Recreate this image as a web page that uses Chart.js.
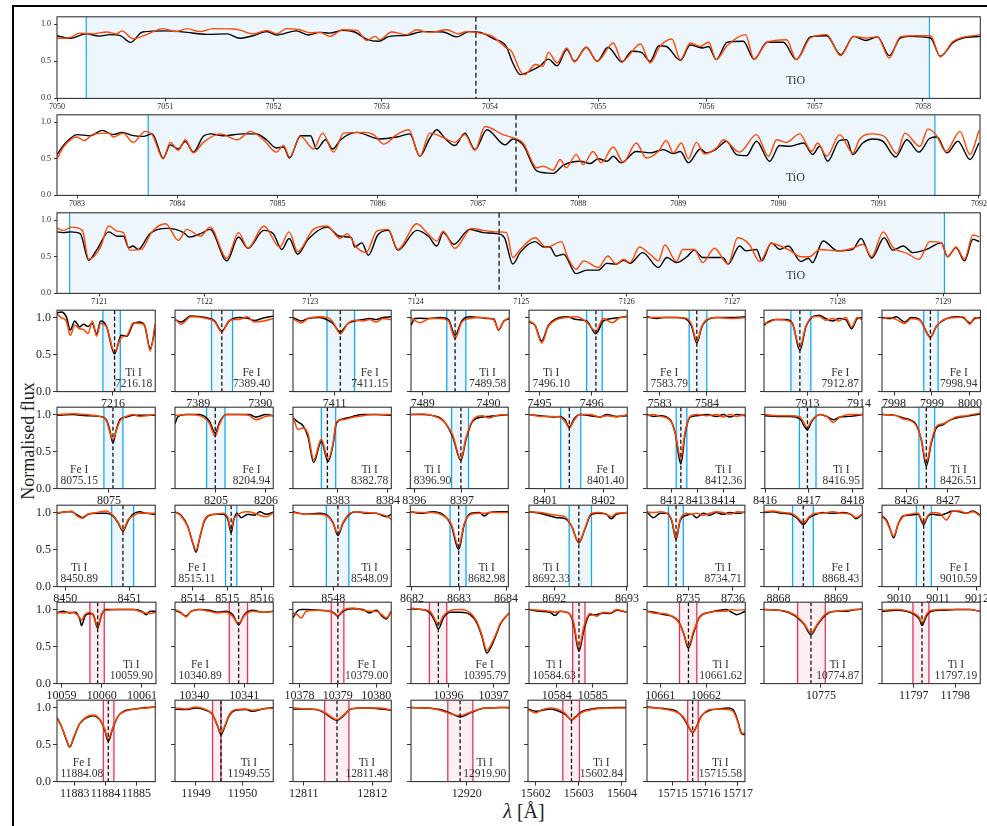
<!DOCTYPE html>
<html><head><meta charset="utf-8">
<script src="https://cdn.jsdelivr.net/npm/chart.js@4.4.1/dist/chart.umd.min.js"></script>
<style>
html,body{margin:0;padding:0;background:#fff;width:987px;height:826px;overflow:hidden;position:relative;}
.frame{position:absolute;left:12px;top:5px;width:1100px;height:1000px;border-top:2px solid #000;border-left:2px solid #000;}
.ytitle{position:absolute;left:28px;top:441px;transform:translate(-50%,-50%) rotate(-90deg);font:18px "Liberation Serif",serif;white-space:nowrap;color:#222;}
.xtitle{position:absolute;left:524px;top:811px;transform:translate(-50%,-50%);font:20px "Liberation Serif",serif;color:#222;white-space:nowrap;}
.box{position:absolute;}
</style></head><body>
<div class="frame"></div>
<div class="ytitle">Normalised flux</div>
<div class="xtitle"><span style="font-style:italic">λ</span> [Å]</div>
<script>
// ---------------- TiO band panels ----------------
const tio1_obs_wl = [7050.00,7050.12,7050.27,7050.39,7050.49,7050.58,7050.68,7050.79,7051.01,7051.20,7051.38,7051.57,7051.69,7051.81,7051.94,7052.03,7052.21,7052.32,7052.43,7052.52,7052.64,7052.75,7052.86,7052.97,7053.07,7053.23,7053.38,7053.57,7053.69,7053.81,7053.91,7054.03,7054.15,7054.21,7054.28,7054.37,7054.46,7054.54,7054.62,7054.71,7054.78,7054.89,7054.99,7055.09,7055.22,7055.31,7055.40,7055.48,7055.56,7055.63,7055.76,7055.85,7055.97,7056.02,7056.09,7056.19,7056.34,7056.44,7056.56,7056.71,7056.83,7056.96,7057.11,7057.24,7057.36,7057.47,7057.58,7057.69,7057.79,7057.88,7058.07,7058.16,7058.28,7058.37,7058.53];
const tio1_obs_flux = [0.845,0.81,0.87,0.84,0.86,0.85,0.755,0.895,0.91,0.89,0.863,0.87,0.81,0.845,0.90,0.855,0.91,0.855,0.89,0.88,0.917,0.895,0.80,0.77,0.836,0.85,0.90,0.895,0.83,0.90,0.89,0.805,0.70,0.48,0.32,0.367,0.434,0.53,0.44,0.657,0.50,0.69,0.50,0.69,0.49,0.635,0.62,0.50,0.71,0.70,0.514,0.72,0.68,0.70,0.523,0.756,0.77,0.53,0.756,0.756,0.523,0.83,0.845,0.59,0.836,0.78,0.83,0.577,0.814,0.836,0.814,0.568,0.756,0.814,0.836];
const tio1_mod_wl = [7050.00,7050.12,7050.21,7050.33,7050.46,7050.55,7050.60,7050.70,7050.83,7050.98,7051.10,7051.20,7051.32,7051.44,7051.63,7051.69,7051.81,7051.94,7052.03,7052.12,7052.24,7052.34,7052.43,7052.52,7052.64,7052.77,7052.86,7052.94,7052.98,7053.09,7053.23,7053.32,7053.44,7053.60,7053.71,7053.78,7053.91,7054.03,7054.15,7054.20,7054.28,7054.32,7054.42,7054.49,7054.54,7054.62,7054.71,7054.78,7054.89,7054.99,7055.14,7055.22,7055.39,7055.48,7055.57,7055.68,7055.76,7055.85,7055.94,7056.02,7056.09,7056.19,7056.36,7056.44,7056.56,7056.74,7056.83,7056.96,7057.11,7057.24,7057.36,7057.47,7057.58,7057.69,7057.79,7057.91,7058.07,7058.16,7058.28,7058.53];
const tio1_mod_flux = [0.81,0.82,0.88,0.87,0.895,0.87,0.91,0.805,0.863,0.94,0.90,0.94,0.90,0.94,0.935,0.92,0.87,0.917,0.87,0.94,0.925,0.885,0.89,0.836,0.925,0.917,0.78,0.836,0.79,0.895,0.86,0.925,0.89,0.925,0.87,0.90,0.88,0.83,0.68,0.635,0.367,0.32,0.456,0.434,0.62,0.48,0.68,0.49,0.69,0.50,0.747,0.50,0.733,0.48,0.70,0.80,0.523,0.747,0.70,0.756,0.523,0.71,0.86,0.53,0.756,0.79,0.523,0.814,0.86,0.577,0.836,0.814,0.83,0.545,0.83,0.845,0.845,0.56,0.77,0.86];

const tio2_obs_wl = [7082.80,7082.87,7083.00,7083.13,7083.25,7083.36,7083.45,7083.56,7083.66,7083.75,7083.86,7083.93,7084.01,7084.08,7084.16,7084.26,7084.33,7084.46,7084.66,7084.79,7084.89,7084.99,7085.06,7085.12,7085.23,7085.33,7085.39,7085.48,7085.55,7085.63,7085.79,7086.02,7086.19,7086.32,7086.42,7086.52,7086.59,7086.67,7086.77,7086.87,7086.97,7087.09,7087.27,7087.35,7087.45,7087.59,7087.75,7087.85,7088.02,7088.12,7088.20,7088.29,7088.35,7088.43,7088.58,7088.72,7088.85,7088.95,7089.02,7089.10,7089.22,7089.28,7089.38,7089.48,7089.58,7089.68,7089.78,7089.91,7090.01,7090.11,7090.25,7090.34,7090.41,7090.49,7090.61,7090.68,7090.74,7090.84,7090.94,7091.04,7091.17,7091.28,7091.40,7091.51,7091.58,7091.68,7091.79,7091.91,7092.00];
const tio2_obs_flux = [0.557,0.69,0.83,0.815,0.887,0.83,0.86,0.815,0.806,0.84,0.51,0.69,0.634,0.74,0.59,0.806,0.84,0.815,0.84,0.84,0.76,0.647,0.66,0.51,0.815,0.815,0.634,0.76,0.634,0.76,0.86,0.77,0.797,0.84,0.534,0.78,0.896,0.78,0.68,0.85,0.625,0.896,0.69,0.77,0.69,0.33,0.30,0.41,0.466,0.435,0.50,0.466,0.534,0.444,0.60,0.58,0.625,0.57,0.60,0.444,0.634,0.58,0.634,0.74,0.557,0.543,0.74,0.466,0.68,0.67,0.715,0.557,0.67,0.466,0.75,0.76,0.557,0.715,0.77,0.74,0.525,0.76,0.59,0.78,0.797,0.58,0.74,0.49,0.715];
const tio2_mod_wl = [7082.80,7082.87,7083.00,7083.07,7083.17,7083.32,7083.36,7083.46,7083.56,7083.68,7083.75,7083.86,7083.93,7084.01,7084.08,7084.16,7084.26,7084.43,7084.60,7084.73,7084.86,7084.99,7085.06,7085.12,7085.23,7085.36,7085.45,7085.56,7085.66,7085.86,7085.96,7086.06,7086.19,7086.31,7086.42,7086.52,7086.67,7086.77,7086.87,7086.97,7087.07,7087.25,7087.32,7087.45,7087.59,7087.65,7087.75,7087.82,7087.88,7087.98,7088.05,7088.15,7088.23,7088.35,7088.45,7088.58,7088.68,7088.80,7088.88,7088.95,7089.03,7089.10,7089.18,7089.26,7089.38,7089.45,7089.61,7089.78,7089.90,7089.98,7090.08,7090.21,7090.33,7090.39,7090.48,7090.61,7090.74,7090.81,7090.94,7091.06,7091.18,7091.26,7091.41,7091.49,7091.57,7091.67,7091.81,7091.91,7092.00];
const tio2_mod_flux = [0.50,0.67,0.797,0.75,0.84,0.85,0.797,0.85,0.724,0.874,0.83,0.50,0.724,0.616,0.76,0.58,0.724,0.84,0.76,0.874,0.76,0.59,0.68,0.525,0.806,0.634,0.85,0.59,0.85,0.86,0.83,0.70,0.83,0.896,0.534,0.85,0.78,0.724,0.83,0.616,0.94,0.83,0.80,0.715,0.376,0.40,0.344,0.49,0.376,0.557,0.42,0.60,0.444,0.66,0.453,0.715,0.51,0.60,0.75,0.58,0.715,0.50,0.724,0.566,0.647,0.76,0.59,0.83,0.534,0.76,0.724,0.84,0.60,0.715,0.534,0.83,0.58,0.77,0.84,0.80,0.57,0.85,0.67,0.905,0.83,0.60,0.874,0.557,0.887];

const tio3_obs_wl = [7120.60,7120.66,7120.73,7120.82,7120.90,7120.98,7121.09,7121.17,7121.23,7121.28,7121.32,7121.37,7121.48,7121.64,7121.80,7121.85,7121.96,7122.05,7122.21,7122.32,7122.41,7122.56,7122.65,7122.73,7122.80,7122.88,7122.98,7123.16,7123.28,7123.39,7123.42,7123.49,7123.55,7123.64,7123.74,7123.83,7124.01,7124.12,7124.20,7124.26,7124.36,7124.51,7124.64,7124.77,7124.84,7124.92,7124.99,7125.13,7125.21,7125.27,7125.33,7125.40,7125.52,7125.62,7125.73,7125.81,7125.90,7125.97,7126.03,7126.15,7126.30,7126.38,7126.47,7126.57,7126.64,7126.72,7126.91,7126.96,7127.07,7127.13,7127.23,7127.28,7127.37,7127.45,7127.53,7127.65,7127.72,7127.76,7127.86,7128.00,7128.14,7128.22,7128.32,7128.44,7128.52,7128.62,7128.71,7128.84,7128.98,7129.04,7129.12,7129.20,7129.28,7129.34];
const tio3_obs_flux = [0.84,0.83,0.84,0.815,0.453,0.60,0.84,0.78,0.78,0.625,0.647,0.60,0.815,0.887,0.83,0.77,0.815,0.874,0.444,0.77,0.616,0.86,0.815,0.60,0.75,0.534,0.74,0.905,0.78,0.76,0.634,0.69,0.52,0.797,0.86,0.59,0.86,0.78,0.647,0.83,0.67,0.874,0.83,0.815,0.76,0.40,0.56,0.706,0.634,0.634,0.51,0.534,0.27,0.317,0.317,0.41,0.40,0.453,0.41,0.557,0.353,0.49,0.42,0.50,0.59,0.49,0.49,0.40,0.647,0.58,0.60,0.444,0.69,0.60,0.647,0.435,0.48,0.42,0.715,0.58,0.60,0.75,0.48,0.76,0.59,0.647,0.557,0.60,0.69,0.50,0.625,0.444,0.74,0.706];
const tio3_mod_wl = [7120.60,7120.66,7120.74,7120.84,7120.90,7121.01,7121.09,7121.17,7121.23,7121.29,7121.40,7121.50,7121.63,7121.75,7121.83,7121.96,7122.05,7122.21,7122.32,7122.41,7122.56,7122.71,7122.80,7122.88,7123.03,7123.16,7123.28,7123.35,7123.44,7123.53,7123.63,7123.74,7123.83,7124.01,7124.12,7124.20,7124.26,7124.37,7124.53,7124.64,7124.78,7124.86,7124.92,7124.99,7125.13,7125.24,7125.38,7125.44,7125.52,7125.59,7125.73,7125.82,7125.90,7125.97,7126.03,7126.12,7126.22,7126.30,7126.36,7126.47,7126.53,7126.64,7126.72,7126.83,7126.96,7127.05,7127.16,7127.26,7127.37,7127.54,7127.65,7127.73,7127.83,7128.00,7128.14,7128.24,7128.32,7128.43,7128.52,7128.66,7128.77,7128.87,7128.98,7129.04,7129.12,7129.20,7129.28,7129.34];
const tio3_mod_flux = [0.89,0.86,0.905,0.86,0.466,0.625,0.92,0.85,0.83,0.59,0.60,0.84,0.95,0.724,0.874,0.78,0.905,0.48,0.83,0.616,0.92,0.634,0.84,0.57,0.874,0.92,0.75,0.815,0.625,0.557,0.85,0.874,0.60,0.95,0.806,0.715,0.85,0.616,0.887,0.86,0.84,0.83,0.49,0.60,0.76,0.625,0.706,0.49,0.33,0.444,0.353,0.51,0.40,0.466,0.42,0.634,0.534,0.444,0.66,0.435,0.60,0.60,0.42,0.616,0.40,0.76,0.67,0.435,0.68,0.59,0.50,0.50,0.60,0.58,0.616,0.67,0.50,0.84,0.634,0.543,0.466,0.706,0.69,0.50,0.634,0.466,0.797,0.77];

const tioRange = [[7050.0, 7058.53], [7082.80, 7092.01], [7120.60, 7129.35]];
const tioTicks = [[7050,7051,7052,7053,7054,7055,7056,7057,7058],[7083,7084,7085,7086,7087,7088,7089,7090,7091,7092],[7121,7122,7123,7124,7125,7126,7127,7128,7129]];
const tioWindow = [[7050.27, 7058.06], [7083.71, 7091.56], [7120.72, 7129.01]];
const tioCentre = [7053.87, 7087.38, 7124.79];

// ---------------- individual lines ----------------
const wl_7216 = [7215.20,7215.262,7215.334,7215.391,7215.453,7215.524,7215.581,7215.643,7215.705,7215.767,7215.824,7215.905,7216.024,7216.12,7216.20,7216.296,7216.381,7216.453,7216.534,7216.605];
const obs_7216 = [1.064,1.077,1.01,0.83,0.955,0.874,0.91,0.88,0.92,0.78,0.955,0.89,0.51,0.76,0.747,0.92,0.94,0.896,0.58,0.85];
const mod_7216 = [1.046,1.0,0.95,0.76,0.896,0.85,0.837,0.783,0.955,0.747,0.92,0.883,0.534,0.73,0.76,0.93,0.92,0.896,0.548,0.92];
const wl_7389 = [7388.624,7388.72,7388.88,7389.12,7389.258,7389.38,7389.50,7389.661,7389.796,7389.903,7390.04,7390.21];
const obs_7389 = [0.973,0.94,1.02,1.0,0.96,0.82,0.955,1.0,0.99,0.96,0.99,1.02];
const mod_7389 = [0.987,0.91,1.01,0.99,0.95,0.806,0.96,0.975,1.01,0.94,0.95,0.987];
const wl_7411 = [7410.305,7410.444,7410.556,7410.75,7410.889,7410.972,7411.094,7411.222,7411.333,7411.472,7411.583,7411.694,7411.806,7411.944];
const obs_7411 = [1.0,0.955,0.987,1.0,0.964,0.92,0.806,0.92,0.955,0.973,0.987,0.973,1.0,1.01];
const mod_7411 = [0.987,0.928,0.987,1.01,1.0,0.94,0.783,0.92,0.964,0.955,0.973,0.94,0.987,0.973];
const wl_7489 = [7488.82,7488.881,7488.957,7489.11,7489.262,7489.389,7489.491,7489.592,7489.719,7489.872,7489.999,7490.08,7490.151,7490.23,7490.314];
const obs_7489 = [0.896,0.987,0.99,0.987,1.0,0.973,0.76,0.955,1.01,1.0,0.987,0.98,0.83,0.95,0.987];
const mod_7489 = [1.0,0.96,0.93,0.987,0.987,0.955,0.715,0.94,0.987,1.0,0.99,0.97,0.84,0.95,1.0];
const wl_7496 = [7494.80,7494.915,7495.042,7495.169,7495.328,7495.519,7495.71,7495.90,7496.079,7496.219,7496.39,7496.537,7496.677];
const obs_7496 = [0.94,0.896,0.684,0.896,0.987,1.01,0.973,0.955,0.783,0.955,0.987,1.0,1.019];
const mod_7496 = [0.955,0.896,0.656,0.883,0.973,1.0,1.01,0.94,0.82,0.987,0.93,1.0,1.01];
const wl_7583 = [7582.73,7582.941,7583.081,7583.362,7583.573,7583.679,7583.784,7583.89,7583.995,7584.206,7584.487,7584.81];
const obs_7583 = [1.01,0.987,1.0,1.0,0.973,0.874,0.656,0.874,0.964,1.0,1.0,1.01];
const mod_7583 = [1.0,1.0,1.0,1.0,0.987,0.896,0.684,0.883,0.973,1.0,0.987,1.0];
const wl_7912 = [7912.157,7912.227,7912.388,7912.582,7912.711,7912.853,7912.969,7913.098,7913.227,7913.356,7913.485,7913.613,7913.742,7913.858,7913.968,7914.058];
const obs_7912 = [0.896,0.94,0.973,0.973,0.92,0.557,0.874,1.01,1.032,0.987,0.955,0.987,0.973,0.851,0.987,1.0];
const mod_7912 = [0.92,0.928,0.973,0.964,0.91,0.602,0.883,1.01,1.019,0.964,0.987,0.955,1.0,0.874,1.0,0.973];
const wl_7998 = [7997.684,7997.886,7998.062,7998.282,7998.458,7998.678,7998.959,7999.118,7999.382,7999.645,7999.821,7999.997,8000.129,8000.278];
const obs_7998 = [1.0,0.987,1.01,0.94,1.0,0.973,0.738,0.883,0.987,1.01,1.0,0.928,0.987,1.0];
const mod_7998 = [0.987,1.0,0.973,0.92,0.987,0.964,0.729,0.883,0.987,1.0,1.01,0.91,1.0,0.987];
const wl_8075 = [8074.134,8074.40,8074.623,8074.845,8074.956,8075.012,8075.067,8075.123,8075.19,8075.29,8075.40,8075.512,8075.773];
const obs_8075 = [0.99,1.0,0.986,0.976,0.93,0.796,0.615,0.796,0.94,0.967,0.99,0.99,0.99];
const mod_8075 = [1.0,1.013,1.0,0.976,0.922,0.773,0.66,0.787,0.922,0.976,1.0,0.976,1.0];
const wl_8204 = [8204.179,8204.233,8204.399,8204.666,8204.866,8204.986,8205.066,8205.199,8205.466,8205.666,8205.799,8205.999,8206.146];
const obs_8204 = [0.877,0.967,1.0,1.0,0.91,0.75,0.886,1.0,1.0,1.0,0.967,1.0,0.986];
const mod_8204 = [0.986,0.99,1.0,0.986,0.886,0.705,0.863,1.0,1.0,0.986,0.93,0.976,0.986];
const wl_8382 = [8382.10,8382.20,8382.30,8382.40,8382.514,8382.667,8382.80,8382.90,8382.967,8383.10,8383.30,8383.50,8383.767,8384.067];
const obs_8382 = [0.954,0.90,0.85,0.70,0.353,0.64,0.366,0.59,0.88,0.94,0.976,1.0,1.0,0.99];
const mod_8382 = [0.976,0.80,0.82,0.74,0.39,0.67,0.40,0.60,0.90,0.93,0.965,0.986,1.0,1.0];
const wl_8396 = [8395.916,8396.174,8396.384,8396.594,8396.803,8396.978,8397.083,8397.223,8397.432,8397.572,8397.712,8397.972];
const obs_8396 = [1.0,1.0,0.986,0.93,0.705,0.38,0.66,0.91,0.967,0.976,0.986,1.0];
const mod_8396 = [1.0,1.008,0.986,0.922,0.728,0.398,0.68,0.922,0.986,0.954,0.986,1.0];
const wl_8401 = [8400.726,8400.915,8401.143,8401.258,8401.343,8401.418,8401.498,8401.601,8401.772,8401.944,8402.058,8402.23,8402.412];
const obs_8401 = [1.0,0.986,0.967,0.976,0.93,0.831,0.94,1.0,0.986,0.967,1.0,0.976,0.986];
const mod_8401 = [1.0,0.976,0.976,0.967,0.91,0.818,0.922,1.0,1.0,0.967,0.986,0.967,1.0];
const wl_8412 = [8411.03,8411.288,8411.546,8411.933,8412.127,8412.347,8412.515,8412.709,8412.967,8413.355,8413.742,8414.0,8414.259,8414.517,8414.853];
const obs_8412 = [1.0,0.976,0.986,0.93,0.75,0.334,0.75,0.967,0.986,1.0,0.976,1.0,0.967,1.0,0.986];
const mod_8412 = [0.986,1.0,0.976,0.922,0.75,0.41,0.773,0.976,1.0,0.986,1.0,0.967,1.0,0.976,1.0];
const wl_8416 = [8415.995,8416.269,8416.574,8416.80,8416.97,8417.068,8417.258,8417.41,8417.563,8417.715,8417.943,8418.24];
const obs_8416 = [0.986,0.976,0.976,0.94,0.795,0.908,1.0,0.976,0.93,0.967,0.976,1.0];
const mod_8416 = [1.0,0.986,0.986,0.967,0.83,0.922,1.0,0.976,0.895,0.967,1.0,1.0];
const wl_8426 = [8425.414,8425.758,8425.918,8426.079,8426.239,8426.359,8426.48,8426.60,8426.72,8426.88,8427.04,8427.201,8427.441,8427.778];
const obs_8426 = [1.0,0.986,0.954,0.93,0.863,0.66,0.307,0.615,0.818,0.863,0.922,0.954,0.976,1.008];
const mod_8426 = [1.0,0.986,0.94,0.922,0.85,0.66,0.353,0.637,0.84,0.877,0.922,0.967,0.986,1.022];
const wl_8450 = [8449.87,8450.016,8450.094,8450.171,8450.265,8450.353,8450.482,8450.638,8450.741,8450.819,8450.897,8450.975,8451.052,8451.156,8451.26,8451.40];
const obs_8450 = [0.99,1.01,1.01,0.977,0.932,0.977,0.99,0.99,0.955,0.864,0.75,0.886,0.977,1.01,0.99,0.977];
const mod_8450 = [1.0,1.01,1.023,0.964,0.923,0.977,1.0,1.023,0.964,0.873,0.764,0.9,0.955,0.99,0.99,0.99];
const wl_8515 = [8513.489,8513.663,8513.856,8514.001,8514.098,8514.194,8514.339,8514.484,8514.677,8514.87,8515.016,8515.112,8515.18,8515.276,8515.402,8515.595,8515.789,8515.933,8516.127,8516.339];
const obs_8515 = [1.01,0.964,0.818,0.591,0.464,0.636,0.886,0.964,0.977,0.977,0.909,0.727,0.886,0.99,0.932,0.977,0.964,1.01,0.977,1.01];
const mod_8515 = [1.01,0.955,0.809,0.6,0.49,0.645,0.9,0.964,0.977,0.99,0.932,0.773,0.909,0.955,1.0,1.01,0.99,0.964,0.945,1.0];
const wl_8548 = [8547.35,8547.565,8547.78,8547.915,8547.996,8548.076,8548.157,8548.264,8548.372,8548.533,8548.695,8548.856,8548.937];
const obs_8548 = [1.01,0.977,0.99,0.955,0.864,0.69,0.855,0.977,1.01,0.99,0.99,0.945,0.977];
const mod_8548 = [1.0,0.977,0.977,0.945,0.855,0.718,0.864,0.99,1.01,1.0,0.99,0.955,0.909];
const wl_8682 = [8681.964,8682.226,8682.439,8682.652,8682.829,8682.992,8683.113,8683.255,8683.432,8683.538,8683.645,8683.858,8684.049];
const obs_8682 = [1.01,0.99,1.01,0.977,0.841,0.5,0.841,0.99,1.0,0.955,1.0,1.01,1.01];
const mod_8682 = [1.01,1.0,1.0,0.964,0.855,0.545,0.855,0.977,0.99,0.99,1.0,1.0,1.0];
const wl_8692 = [8691.653,8691.804,8691.941,8692.032,8692.146,8692.238,8692.338,8692.42,8692.511,8692.626,8692.717,8692.785,8692.854,8693.0];
const obs_8692 = [1.01,0.99,0.955,0.932,0.918,0.818,0.59,0.773,0.977,0.99,0.977,0.918,0.977,1.0];
const mod_8692 = [1.01,1.0,0.977,0.964,0.945,0.818,0.6,0.782,0.99,1.0,0.977,0.945,0.99,1.0];
const wl_8734 = [8734.075,8734.223,8734.371,8734.52,8734.631,8734.727,8734.816,8734.964,8735.075,8735.186,8735.334,8735.482,8735.631,8735.779,8735.927,8736.112,8736.268];
const obs_8734 = [1.01,0.932,0.99,0.99,0.886,0.636,0.886,0.964,0.977,0.932,0.99,0.964,1.0,0.977,1.0,0.99,1.01];
const mod_8734 = [1.01,1.0,1.01,0.99,0.9,0.66,0.9,0.99,0.977,0.99,0.964,0.99,1.01,1.0,0.977,1.01,1.0];
const wl_8868 = [8867.746,8867.897,8868.071,8868.216,8868.332,8868.431,8868.535,8868.652,8868.767,8868.942,8869.116,8869.261,8869.348,8869.458];
const obs_8868 = [1.0,1.01,0.99,0.977,0.918,0.841,0.932,0.977,1.0,0.99,1.0,0.977,0.918,0.977];
const mod_8868 = [1.01,1.023,1.0,0.99,0.932,0.864,0.945,0.99,0.99,1.01,0.99,0.977,0.932,0.977];
const wl_9010 = [9009.565,9009.676,9009.762,9009.864,9009.975,9010.103,9010.274,9010.488,9010.633,9010.744,9010.873,9011.044,9011.215,9011.386,9011.557,9011.728,9011.898,9012.087];
const obs_9010 = [0.955,0.9,0.795,0.66,0.84,0.955,0.964,0.977,0.84,0.955,0.977,0.964,0.99,1.023,1.01,0.99,1.023,0.964];
const mod_9010 = [0.945,0.886,0.782,0.682,0.84,0.945,0.977,0.99,0.864,0.964,1.0,0.99,0.9,1.023,1.023,0.99,1.01,0.955];
const wl_10059 = [10058.891,10059.041,10059.208,10059.358,10059.458,10059.5,10059.583,10059.708,10059.791,10059.90,10060.0,10060.124,10060.458,10060.791,10060.999,10061.108,10061.208,10061.349];
const obs_10059 = [0.955,0.977,0.955,0.964,0.865,0.784,0.91,0.946,0.932,0.752,0.932,1.0,1.0,1.0,0.977,0.932,0.977,0.977];
const mod_10059 = [0.964,0.955,0.964,0.946,0.887,0.856,0.932,0.964,0.919,0.775,0.946,0.991,1.0,1.0,0.964,0.955,0.946,0.964];
const wl_10340 = [10339.613,10339.733,10339.833,10339.933,10340.10,10340.30,10340.466,10340.633,10340.767,10340.887,10341.0,10341.167,10341.367,10341.58];
const obs_10340 = [0.991,0.955,0.91,0.977,1.0,0.991,0.964,0.977,0.932,0.797,0.932,0.991,0.964,0.977];
const mod_10340 = [1.0,0.964,0.9,0.977,1.0,0.977,0.955,0.964,0.91,0.81,0.919,0.977,0.964,0.977];
const wl_10379 = [10377.826,10377.939,10378.044,10378.174,10378.523,10378.784,10378.896,10379.001,10379.131,10379.392,10379.653,10379.828,10380.002,10380.176,10380.263,10380.393];
const obs_10379 = [0.887,0.977,1.0,1.0,0.991,0.977,0.955,0.91,0.977,1.01,1.0,0.955,0.991,0.9,0.874,0.977];
const mod_10379 = [0.955,0.932,0.887,0.977,0.991,0.977,0.946,0.919,0.991,1.023,0.991,0.977,0.977,0.919,0.887,0.977];
const wl_10395 = [10395.17,10395.407,10395.592,10395.703,10395.777,10395.888,10396.037,10396.259,10396.481,10396.629,10396.74,10396.852,10396.963,10397.074,10397.148,10397.348];
const obs_10395 = [1.01,1.0,0.955,0.842,0.739,0.887,0.964,0.964,0.932,0.82,0.64,0.414,0.52,0.685,0.80,0.955];
const mod_10395 = [1.023,1.0,0.977,0.865,0.797,0.919,0.986,1.0,0.955,0.84,0.66,0.45,0.55,0.70,0.81,0.955];
const wl_10584 = [10583.23,10583.536,10583.813,10583.952,10584.091,10584.323,10584.461,10584.619,10584.758,10584.924,10585.11,10585.295,10585.48,10585.665,10585.961];
const obs_10584 = [1.0,0.977,0.964,0.919,0.977,0.955,0.82,0.437,0.73,0.932,0.932,0.955,0.946,0.991,0.964];
const mod_10584 = [1.0,0.991,0.977,0.964,0.977,0.955,0.842,0.482,0.775,0.946,0.91,0.964,0.955,1.0,0.964];
const wl_10661 = [10660.709,10660.927,10661.071,10661.253,10661.398,10661.506,10661.615,10661.724,10661.868,10662.086,10662.303,10662.448,10662.557,10662.666,10662.854];
const obs_10661 = [0.977,0.955,0.932,0.91,0.842,0.685,0.482,0.685,0.91,0.964,0.991,1.0,0.964,0.932,0.977];
const mod_10661 = [0.977,0.946,0.946,0.91,0.83,0.685,0.505,0.707,0.9,0.964,0.977,0.977,1.0,0.991,1.0];
const wl_10774 = [10774.26,10774.459,10774.589,10774.697,10774.783,10774.87,10774.956,10775.065,10775.195,10775.324,10775.454,10775.536];
const obs_10774 = [1.0,0.991,0.955,0.887,0.797,0.662,0.797,0.932,0.977,0.977,1.0,1.009];
const mod_10774 = [1.0,0.991,0.964,0.9,0.81,0.685,0.81,0.946,0.977,0.991,1.0,1.009];
const wl_11797 = [11796.241,11796.585,11796.824,11797.024,11797.144,11797.20,11797.304,11797.424,11797.704,11798.023,11798.343,11798.599];
const obs_11797 = [0.977,0.991,0.977,0.932,0.865,0.784,0.91,0.977,0.991,1.0,1.0,0.977];
const mod_11797 = [0.991,1.0,0.986,0.946,0.887,0.82,0.932,0.991,1.0,1.0,1.0,0.977];
const wl_11884 = [11882.426,11882.567,11882.729,11882.837,11882.967,11883.162,11883.379,11883.595,11883.811,11883.974,11884.093,11884.223,11884.407,11884.677,11885.002,11885.327,11885.619];
const obs_11884 = [0.86,0.747,0.566,0.466,0.588,0.783,0.86,0.891,0.837,0.701,0.543,0.701,0.882,0.964,0.982,1.0,1.009];
const mod_11884 = [0.86,0.747,0.575,0.475,0.602,0.783,0.873,0.9,0.846,0.71,0.575,0.71,0.882,0.955,0.982,0.995,1.009];
const wl_11949 = [11948.549,11948.785,11949.0,11949.215,11949.358,11949.465,11949.537,11949.608,11949.715,11949.858,11950.073,11950.216,11950.431,11950.659];
const obs_11949 = [0.982,0.973,0.995,0.964,0.905,0.747,0.633,0.724,0.891,0.964,0.973,0.95,0.982,1.0];
const mod_11949 = [0.995,0.982,1.009,0.973,0.905,0.756,0.656,0.738,0.905,0.973,0.982,0.964,0.982,0.995];
const wl_12811 = [12810.844,12811.039,12811.184,12811.305,12811.403,12811.485,12811.572,12811.669,12811.815,12811.961,12812.106,12812.203,12812.276];
const obs_12811 = [0.982,0.982,0.973,0.928,0.86,0.828,0.882,0.973,0.995,0.995,0.982,0.973,0.964];
const mod_12811 = [0.995,0.982,0.973,0.937,0.873,0.837,0.891,0.973,0.995,0.995,0.995,0.982,0.964];
const wl_12919 = [12919.17,12919.404,12919.603,12919.752,12919.901,12920.051,12920.20,12920.349,12920.498,12920.633];
const obs_12919 = [1.0,0.995,0.973,0.928,0.873,0.928,0.982,0.995,1.0,1.0];
const mod_12919 = [1.0,0.995,0.964,0.919,0.891,0.937,0.982,0.995,1.0,0.995];
const wl_15602 = [15601.82,15601.997,15602.151,15602.344,15602.536,15602.69,15602.829,15602.936,15603.075,15603.306,15603.614,15603.845,15604.091];
const obs_15602 = [0.982,0.95,0.964,0.982,0.95,0.905,0.837,0.882,0.95,0.982,0.995,1.0,1.0];
const mod_15602 = [0.973,0.928,0.973,0.995,0.973,0.919,0.828,0.873,0.937,0.973,0.991,0.995,0.995];
const wl_15715 = [15714.206,15714.511,15714.816,15715.121,15715.324,15715.476,15715.608,15715.73,15715.883,15716.137,15716.442,15716.696,15716.848,15717.0,15717.102,15717.214];
const obs_15715 = [1.009,0.995,0.982,0.95,0.86,0.747,0.665,0.747,0.891,0.964,0.982,0.995,0.973,0.814,0.656,0.633];
const mod_15715 = [1.0,0.995,0.973,0.937,0.873,0.756,0.656,0.738,0.882,0.973,0.982,0.973,0.95,0.8,0.647,0.656];

const lineSpecies = ['Ti I','Fe I','Fe I','Ti I','Ti I','Fe I','Fe I','Fe I','Fe I','Fe I','Ti I','Ti I','Fe I','Ti I','Ti I','Ti I','Ti I','Fe I','Ti I','Ti I','Ti I','Ti I','Fe I','Fe I','Ti I','Fe I','Fe I','Fe I','Ti I','Ti I','Ti I','Ti I','Fe I','Ti I','Ti I','Ti I','Ti I','Ti I'];
const lineLabels = ['7216.18','7389.40','7411.15','7489.58','7496.10','7583.79','7912.87','7998.94','8075.15','8204.94','8382.78','8396.90','8401.40','8412.36','8416.95','8426.51','8450.89','8515.11','8548.09','8682.98','8692.33','8734.71','8868.43','9010.59','10059.90','10340.89','10379.00','10395.79','10584.63','10661.62','10774.87','11797.19','11884.08','11949.55','12811.48','12919.90','15602.84','15715.58'];
const lineXmin = [7215.20,7388.624,7410.305,7488.82,7494.80,7582.73,7912.157,7997.683,8074.133,8204.18,8382.10,8395.916,8400.726,8411.03,8415.995,8425.413,8449.87,8513.49,8547.35,8681.964,8691.653,8734.076,8867.746,9009.564,10058.89,10339.614,10377.825,10395.17,10583.23,10660.71,10774.26,11796.24,11882.425,11948.55,12810.844,12919.17,15601.82,15714.207];
const lineXmax = [7216.606,7390.21,7411.945,7490.314,7496.677,7584.81,7914.058,8000.278,8075.773,8206.146,8384.067,8397.972,8402.412,8414.853,8418.24,8427.778,8451.40,8516.339,8548.937,8684.049,8693.005,8736.268,8869.458,9012.087,10061.349,10341.58,10380.393,10397.348,10585.961,10662.854,10775.536,11798.599,11885.619,11950.659,12812.276,12920.633,15604.091,15717.214];
const lineTicks = [[7216],[7389,7390],[7411],[7489,7490],[7495,7496],[7583,7584],[7913,7914],[7998,7999,8000],[8075],[8205,8206],[8383,8384],[8396,8397],[8401,8402],[8412,8413,8414],[8416,8417,8418],[8426,8427],[8450,8451],[8514,8515,8516],[8548],[8682,8683,8684],[8692,8693],[8735,8736],[8868,8869],[9010,9011,9012],[10059,10060,10061],[10340,10341],[10378,10379,10380],[10396,10397],[10584,10585],[10661,10662],[10775],[11797,11798],[11883,11884,11885],[11949,11950],[12811,12812],[12920],[15602,15603,15604],[15715,15716,15717]];
const lineWinLo = [7215.857,7389.214,7410.872,7489.364,7495.901,7583.622,7912.679,7998.783,8074.916,8204.812,8382.668,8396.782,8401.27,8412.166,8416.786,8426.302,8450.721,8514.948,8547.889,8682.809,8692.205,8734.556,8868.244,9010.446,10059.708,10340.70,10378.828,10395.577,10584.444,10661.419,10774.696,11796.983,11883.931,11949.357,12811.305,12919.718,15602.628,15715.457];
const lineWinHi = [7216.106,7389.553,7411.333,7489.654,7496.199,7583.996,7913.066,7999.161,8075.233,8205.18,8382.954,8397.138,8401.613,8412.58,8417.167,8426.68,8451.063,8515.276,8548.253,8683.149,8692.512,8734.889,8868.605,9010.831,10060.065,10341.066,10379.157,10395.963,10584.786,10661.797,10775.056,11797.367,11884.276,11949.537,12811.659,12920.091,15603.014,15715.78];
const lineCentre = [7216.024,7389.38,7411.094,7489.491,7496.079,7583.784,7912.853,7998.959,8075.067,8204.986,8382.788,8396.978,8401.418,8412.347,8416.97,8426.48,8450.897,8515.112,8548.076,8682.992,8692.338,8734.727,8868.431,9010.633,10059.90,10340.887,10379.0,10395.777,10584.619,10661.615,10774.87,11797.20,11884.093,11949.537,12811.485,12919.901,15602.829,15715.608];
const lineWl = [wl_7216,wl_7389,wl_7411,wl_7489,wl_7496,wl_7583,wl_7912,wl_7998,wl_8075,wl_8204,wl_8382,wl_8396,wl_8401,wl_8412,wl_8416,wl_8426,wl_8450,wl_8515,wl_8548,wl_8682,wl_8692,wl_8734,wl_8868,wl_9010,wl_10059,wl_10340,wl_10379,wl_10395,wl_10584,wl_10661,wl_10774,wl_11797,wl_11884,wl_11949,wl_12811,wl_12919,wl_15602,wl_15715];
const lineObs = [obs_7216,obs_7389,obs_7411,obs_7489,obs_7496,obs_7583,obs_7912,obs_7998,obs_8075,obs_8204,obs_8382,obs_8396,obs_8401,obs_8412,obs_8416,obs_8426,obs_8450,obs_8515,obs_8548,obs_8682,obs_8692,obs_8734,obs_8868,obs_9010,obs_10059,obs_10340,obs_10379,obs_10395,obs_10584,obs_10661,obs_10774,obs_11797,obs_11884,obs_11949,obs_12811,obs_12919,obs_15602,obs_15715];
const lineMod = [mod_7216,mod_7389,mod_7411,mod_7489,mod_7496,mod_7583,mod_7912,mod_7998,mod_8075,mod_8204,mod_8382,mod_8396,mod_8401,mod_8412,mod_8416,mod_8426,mod_8450,mod_8515,mod_8548,mod_8682,mod_8692,mod_8734,mod_8868,mod_9010,mod_10059,mod_10340,mod_10379,mod_10395,mod_10584,mod_10661,mod_10774,mod_11797,mod_11884,mod_11949,mod_12811,mod_12919,mod_15602,mod_15715];
// label placement (layout)
const labelSide = ['R','R','R','R','L','L','R','R', 'L','R','R','L','R','R','R','R', 'L','L','R','R','L','R','R','R', 'R','L','R','R','L','R','R','R', 'L','R','R','R','R','R'];

// ---------------- drawing ----------------
const FONT = '"Liberation Serif","DejaVu Serif",serif';
const pts = (xs, ys) => xs.map((x, i) => ({x: x, y: ys[i]}));

function panelPlugin(p) {
  return {
    id: 'panelDeco',
    beforeDatasetsDraw(chart) {
      const ctx = chart.ctx, a = chart.chartArea, x = chart.scales.x;
      ctx.save();
      ctx.beginPath(); ctx.rect(a.left, a.top, a.width, a.height); ctx.clip();
      const x0 = x.getPixelForValue(p.win[0]), x1 = x.getPixelForValue(p.win[1]);
      ctx.fillStyle = p.fill; ctx.fillRect(x0, a.top, x1 - x0, a.height);
      ctx.strokeStyle = p.edge; ctx.lineWidth = p.edgeW;
      [x0, x1].forEach(v => { ctx.beginPath(); ctx.moveTo(v, a.top); ctx.lineTo(v, a.bottom); ctx.stroke(); });
      ctx.restore();
    },
    afterDatasetsDraw(chart) {
      const ctx = chart.ctx, a = chart.chartArea, x = chart.scales.x;
      ctx.save();
      ctx.beginPath(); ctx.rect(a.left, a.top, a.width, a.height); ctx.clip();
      const xc = x.getPixelForValue(p.centre);
      ctx.strokeStyle = p.dashCol; ctx.lineWidth = p.dashW; ctx.setLineDash(p.dash);
      ctx.beginPath(); ctx.moveTo(xc, a.top); ctx.lineTo(xc, a.bottom); ctx.stroke();
      ctx.setLineDash([]);
      ctx.restore();
      ctx.save();
      ctx.fillStyle = '#333';
      ctx.textAlign = 'center'; ctx.textBaseline = 'middle';
      if (p.tio) {
        ctx.font = '12px ' + FONT;
        ctx.fillText('TiO', a.left + 0.8 * a.width, a.top + 0.78 * a.height);
      }
      if (p.l1) {
        ctx.font = '11.5px ' + FONT;
        const bw = Math.max(ctx.measureText(p.l1).width, ctx.measureText(p.l2).width);
        const cx = p.side === 'R' ? a.right - 3 - bw / 2 : a.left + 3.5 + bw / 2;
        ctx.fillText(p.l1, cx, a.bottom - 19);
        ctx.fillText(p.l2, cx, a.bottom - 8);
      }
      ctx.strokeStyle = '#333'; ctx.lineWidth = 1.1;
      ctx.strokeRect(a.left, a.top, a.width, a.height);
      ctx.restore();
    }
  };
}

function build(p) {
  const wrap = document.createElement('div');
  wrap.className = 'box';
  const cv = document.createElement('canvas');
  wrap.appendChild(cv);
  document.body.appendChild(wrap);
  const setBox = (l, t, w, h) => { wrap.style.left = l + 'px'; wrap.style.top = t + 'px'; wrap.style.width = w + 'px'; wrap.style.height = h + 'px'; };
  let G = {l: 50, t: 12, r: 20, b: 30};
  setBox(p.left - G.l, p.top - G.t, p.w + G.l + G.r, p.h + G.t + G.b);
  const tickCol = '#222';
  const chart = new Chart(cv, {
    type: 'line',
    data: {datasets: [
      {data: pts(p.modX, p.modY), borderColor: '#ff4500', borderWidth: p.lw, pointRadius: 0, fill: false, cubicInterpolationMode: 'monotone'},
      {data: pts(p.obsX, p.obsY), borderColor: '#000000', borderWidth: p.lw, pointRadius: 0, fill: false, cubicInterpolationMode: 'monotone'}
    ]},
    options: {
      responsive: true, maintainAspectRatio: false, animation: false, events: [],
      layout: {padding: 0},
      plugins: {legend: {display: false}, tooltip: {enabled: false}},
      scales: {
        x: {type: 'linear', min: p.xmin, max: p.xmax,
          afterBuildTicks: s => { s.ticks = p.ticks.map(v => ({value: v})); },
          ticks: {autoSkip: false, maxRotation: 0, minRotation: 0, padding: p.xpad, color: tickCol, font: {family: FONT, size: p.fs}, callback: v => String(v)},
          grid: {drawOnChartArea: false, drawTicks: true, tickLength: p.tl, tickColor: '#333', tickWidth: 1},
          border: {display: false}},
        y: {type: 'linear', min: 0, max: 1.1,
          afterBuildTicks: s => { s.ticks = [0, 0.5, 1].map(v => ({value: v})); },
          ticks: {padding: p.ypad, color: tickCol, font: {family: FONT, size: p.fs}, callback: v => p.ylab ? Number(v).toFixed(1) : ''},
          grid: {drawOnChartArea: false, drawTicks: true, tickLength: p.tl, tickColor: '#333', tickWidth: 1},
          border: {display: false}}
      }
    },
    plugins: [panelPlugin(p)]
  });
  for (let k = 0; k < 2; k++) {
    const a = chart.chartArea;
    const W = chart.width, H = chart.height;
    const l = a.left, t = a.top, r = W - a.right, b = H - a.bottom;
    setBox(Math.round(p.left - l), Math.round(p.top - t), Math.round(l + p.w + r), Math.round(t + p.h + b));
    chart.resize();
  }
}

// wide TiO panels
const wideObsX = [tio1_obs_wl, tio2_obs_wl, tio3_obs_wl], wideObsY = [tio1_obs_flux, tio2_obs_flux, tio3_obs_flux];
const wideModX = [tio1_mod_wl, tio2_mod_wl, tio3_mod_wl], wideModY = [tio1_mod_flux, tio2_mod_flux, tio3_mod_flux];
const wideTop = [17, 115, 213], wideH = [82, 81, 81];
for (let i = 0; i < 3; i++) {
  build({left: 57, top: wideTop[i], w: 923, h: wideH[i], xmin: tioRange[i][0], xmax: tioRange[i][1], ticks: tioTicks[i],
    obsX: wideObsX[i], obsY: wideObsY[i], modX: wideModX[i], modY: wideModY[i],
    win: tioWindow[i], centre: tioCentre[i], fill: '#eef6fd', edge: '#14aaf0', edgeW: 1.2,
    dash: [5, 3], dashCol: '#333', dashW: 1.5, lw: 1.4, fs: 8, tl: 3, xpad: 1, ypad: 3, ylab: true, tio: true});
}
// small line panels
for (let i = 0; i < lineLabels.length; i++) {
  const col = i % 8, row = Math.floor(i / 8);
  const pink = row >= 3;
  build({left: 57 + col * 117.9, top: 310 + row * 97.5, w: 98, h: 81, xmin: lineXmin[i], xmax: lineXmax[i], ticks: lineTicks[i],
    obsX: lineWl[i], obsY: lineObs[i], modX: lineWl[i], modY: lineMod[i],
    win: [lineWinLo[i], lineWinHi[i]], centre: lineCentre[i],
    fill: pink ? '#fdeef2' : '#eef6fd', edge: pink ? '#e0355e' : '#14aaf0', edgeW: 1.3,
    dash: [4, 2.5], dashCol: '#111', dashW: 1.3, lw: 1.5, fs: 12, tl: 4, xpad: 1, ypad: 2, ylab: col === 0,
    l1: lineSpecies[i], l2: lineLabels[i], side: labelSide[i]});
}
</script>
</body></html>
